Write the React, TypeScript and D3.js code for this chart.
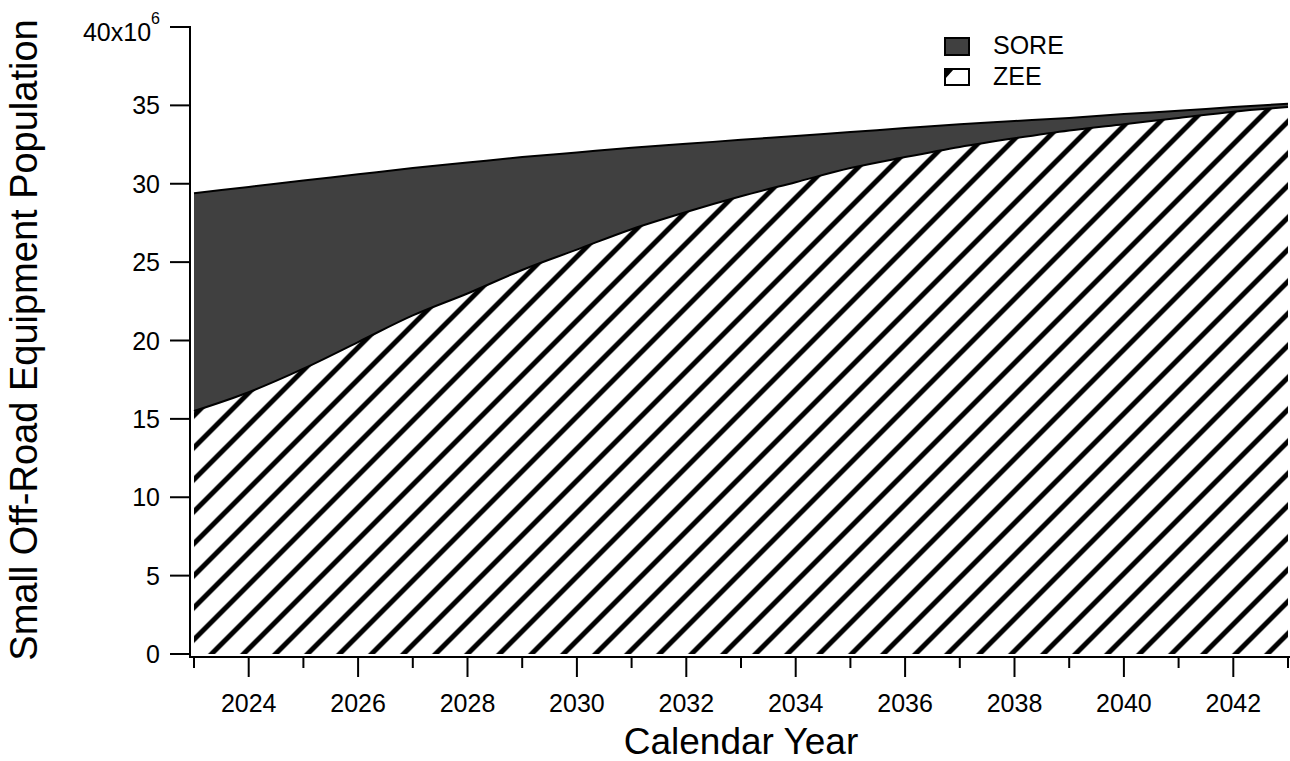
import React from "react";
import * as d3 from "d3";

// Calendar years and population (millions) by equipment type
const years: number[] = [
  2023, 2024, 2025, 2026, 2027, 2028, 2029, 2030, 2031, 2032, 2033,
  2034, 2035, 2036, 2037, 2038, 2039, 2040, 2041, 2042, 2043,
];
// Total small off-road equipment (SORE + ZEE)
const totalPop: number[] = [
  29.4, 29.8, 30.2, 30.6, 31.0, 31.35, 31.7, 32.0, 32.3, 32.55, 32.8,
  33.05, 33.3, 33.55, 33.8, 34.0, 34.2, 34.45, 34.65, 34.9, 35.1,
];
// Zero-emission equipment (ZEE)
const zeePop: number[] = [
  15.5, 16.7, 18.2, 19.9, 21.6, 23.0, 24.5, 25.8, 27.1, 28.2, 29.2,
  30.1, 31.0, 31.7, 32.35, 32.9, 33.4, 33.8, 34.2, 34.6, 34.9,
];

const yTicks: number[] = [0, 5, 10, 15, 20, 25, 30, 35];
const xMajorTicks: number[] = [2024, 2026, 2028, 2030, 2032, 2034, 2036, 2038, 2040, 2042];
const xMinorTicks: number[] = [2023, 2025, 2027, 2029, 2031, 2033, 2035, 2037, 2039, 2041, 2043];

const W = 1290;
const H = 761;
const FONT = "'Liberation Sans', Arial, Helvetica, sans-serif";
const SORE_FILL = "#404040";

export default function App() {
  const x = d3.scaleLinear().domain([2023, 2043]).range([194, 1288]);
  const y = d3.scaleLinear().domain([0, 40]).range([654, 27]);

  const rows = years.map((yr, i) => ({ yr, total: totalPop[i], zee: zeePop[i] }));

  const zeeArea = d3
    .area<(typeof rows)[number]>()
    .x((d) => x(d.yr))
    .y0(() => y(0))
    .y1((d) => y(d.zee))
    .curve(d3.curveMonotoneX);
  const soreArea = d3
    .area<(typeof rows)[number]>()
    .x((d) => x(d.yr))
    .y0((d) => y(d.zee))
    .y1((d) => y(d.total))
    .curve(d3.curveMonotoneX);
  const totalLine = d3
    .line<(typeof rows)[number]>()
    .x((d) => x(d.yr))
    .y((d) => y(d.total))
    .curve(d3.curveMonotoneX);
  const zeeLine = d3
    .line<(typeof rows)[number]>()
    .x((d) => x(d.yr))
    .y((d) => y(d.zee))
    .curve(d3.curveMonotoneX);

  const axisX = 190; // y-axis line position (offset from plot)
  const axisY = 657; // x-axis line position (offset from plot)

  return (
    <svg
      width={W}
      height={H}
      viewBox={`0 0 ${W} ${H}`}
      style={{ position: "absolute", left: 0, top: 0, display: "block", background: "#fff" }}
      fontFamily={FONT}
    >
      <defs>
        <pattern id="zeeHatch" patternUnits="userSpaceOnUse" width={32} height={32} x={1.5} y={0}>
          <rect width={32} height={32} fill="#fff" />
          <path d="M-8,8 L8,-8 M0,32 L32,0 M24,40 L40,24" stroke="#000" strokeWidth={5} />
        </pattern>
        <clipPath id="swatchClip">
          <rect x={945} y={69} width={24} height={16} />
        </clipPath>
      </defs>

      <rect x={0} y={0} width={W} height={H} fill="#fff" />

      {/* stacked areas */}
      <path d={zeeArea(rows) ?? ""} fill="url(#zeeHatch)" />
      <path d={soreArea(rows) ?? ""} fill={SORE_FILL} />
      <path d={totalLine(rows) ?? ""} fill="none" stroke="#000" strokeWidth={2} />
      <path d={zeeLine(rows) ?? ""} fill="none" stroke="#000" strokeWidth={2} />

      {/* y axis */}
      <line x1={axisX} x2={axisX} y1={y(40) - 1} y2={axisY + 1} stroke="#000" strokeWidth={2} />
      {yTicks.map((t) => (
        <g key={`yt${t}`}>
          <line x1={axisX - 20} x2={axisX} y1={y(t)} y2={y(t)} stroke="#000" strokeWidth={2} />
          <text x={160} y={y(t)} textAnchor="end" dominantBaseline="central" fontSize={25}>
            {t}
          </text>
        </g>
      ))}
      <line x1={axisX - 20} x2={axisX} y1={y(40)} y2={y(40)} stroke="#000" strokeWidth={2} />
      <text x={160} y={41} textAnchor="end" fontSize={25}>
        40x10
        <tspan fontSize={16} dy={-17}>
          6
        </tspan>
      </text>

      {/* x axis */}
      <line x1={axisX - 1} x2={W} y1={axisY} y2={axisY} stroke="#000" strokeWidth={2} />
      {xMinorTicks.map((t) => (
        <line key={`xm${t}`} x1={x(t)} x2={x(t)} y1={axisY} y2={axisY + 11} stroke="#000" strokeWidth={2} />
      ))}
      {xMajorTicks.map((t) => (
        <g key={`xt${t}`}>
          <line x1={x(t)} x2={x(t)} y1={axisY} y2={axisY + 20} stroke="#000" strokeWidth={2} />
          <text x={x(t)} y={712} textAnchor="middle" fontSize={25}>
            {t}
          </text>
        </g>
      ))}

      {/* axis titles */}
      <text x={741} y={754} textAnchor="middle" fontSize={37}>
        Calendar Year
      </text>
      <text transform="translate(37,340) rotate(-90)" textAnchor="middle" fontSize={38}>
        Small Off-Road Equipment Population
      </text>

      {/* legend */}
      <rect x={945} y={38} width={24} height={17} fill={SORE_FILL} stroke="#000" strokeWidth={2} />
      <text x={993} y={54} fontSize={25}>
        SORE
      </text>
      <rect x={945} y={69} width={24} height={16} fill="#fff" />
      <path d="M945,69 L954,69 L945,79 Z" fill="#000" clipPath="url(#swatchClip)" />
      <rect x={945} y={69} width={24} height={16} fill="none" stroke="#000" strokeWidth={2} />
      <text x={993} y={85} fontSize={25}>
        ZEE
      </text>
    </svg>
  );
}
